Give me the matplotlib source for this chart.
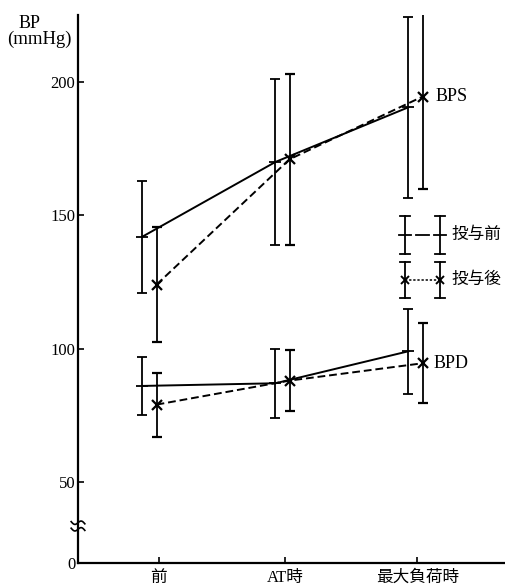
import matplotlib
matplotlib.use("Agg")
import matplotlib.pyplot as plt
import numpy as np

plt.rcParams['font.family'] = ['Liberation Serif', 'Noto Sans CJK JP']

categories = ['前', 'AT時', '最大負荷時']
bps_pre = [142, 170, 190.5]
bps_pre_sd = [21, 31, 34]
bps_post = [124, 171, 194.5]
bps_post_sd = [21.5, 32, 34.5]
bpd_pre = [86, 87, 99]
bpd_pre_sd = [11, 13, 16]
bpd_post = [79, 88, 94.5]
bpd_post_sd = [12, 11.5, 15]
ytick_values = [50, 100, 150, 200]
legend_labels = ['投与前', '投与後']

Y_ZERO_POS = 19.6   # where "0" sits on the broken axis
Y_TOP = 225.1

fig = plt.figure(figsize=(5.05, 5.87), dpi=100)
ax = fig.add_axes([78/505, 24/587, 1 - 78/505, 548/587])

x = np.arange(len(categories))
off = 0.053
lw = 1.4
common = dict(color='black', ecolor='black', elinewidth=1.3, capsize=3.5, capthick=1.3, lw=lw)

for vals, sds in [(bps_pre, bps_pre_sd), (bpd_pre, bpd_pre_sd)]:
    ax.errorbar(x - off, vals, yerr=sds, linestyle='-', marker='_', markersize=9,
                markeredgewidth=1.3, **common)
for vals, sds in [(bps_post, bps_post_sd), (bpd_post, bpd_post_sd)]:
    ax.errorbar(x + off, vals, yerr=sds, linestyle=(0, (4, 2)), marker='x', markersize=7,
                markeredgewidth=1.6, **common)

ax.set_xlim(-0.538, 2.673)
ax.set_ylim(Y_ZERO_POS, Y_TOP)

ax.spines['top'].set_visible(False)
ax.spines['right'].set_visible(False)
ax.spines['left'].set_linewidth(1.6)
ax.spines['bottom'].set_linewidth(1.6)

ax.set_yticks([Y_ZERO_POS] + ytick_values)
ax.set_yticklabels(['0'] + [str(v) for v in ytick_values], fontsize=12)
ax.set_xticks(x + np.array([0.07, 0.02, 0.015]))
ax.set_xticklabels(categories, fontsize=12)
ax.tick_params(axis='both', direction='in', length=4.5, width=1.2, pad=2)
ax.tick_params(axis='x', pad=5)

# axis title
fig.text(30/505, 1 - 23/587, 'BP', fontsize=13, ha='center', va='center')
fig.text(39.5/505, 1 - 39/587, '(mmHg)', fontsize=13.5, ha='center', va='center')

# series labels
ax.annotate('BPS', xy=(2 + off, bps_post[2]), xytext=(9, 0), textcoords='offset points',
            fontsize=13, va='center', ha='left')
ax.annotate('BPD', xy=(2 + off, bpd_post[2]), xytext=(8, 0), textcoords='offset points',
            fontsize=13, va='center', ha='left')

# manual legend (axes coordinates)
T = ax.transAxes
lx1, lx2 = 0.766, 0.848
capw = 0.0117
for (yc, hh, style) in [(0.5985, 0.0347, 'pre'), (0.5164, 0.0328, 'post')]:
    for lx in (lx1, lx2):
        ax.plot([lx, lx], [yc - hh, yc + hh], color='black', lw=1.3, transform=T, clip_on=False)
        for yy in (yc - hh, yc + hh):
            ax.plot([lx - capw, lx + capw], [yy, yy], color='black', lw=1.3, transform=T, clip_on=False)
    if style == 'pre':
        for lx in (lx1, lx2):
            ax.plot([lx - 0.014, lx + 0.014], [yc, yc], color='black', lw=1.3, transform=T)
        ax.plot([lx1 + 0.026, lx2 - 0.026], [yc, yc], color='black', lw=1.3, transform=T)
        label = legend_labels[0]
    else:
        ax.plot([lx1, lx2], [yc, yc], color='black', lw=1.1, linestyle=(0, (1.5, 1.2)), transform=T)
        ax.plot([lx1, lx2], [yc, yc], linestyle='none', marker='x', markersize=6,
                markeredgewidth=1.4, color='black', transform=T)
        label = legend_labels[1]
    ax.text(0.875, yc, label, fontsize=12, va='center', ha='left', transform=T)

# axis break marks
tt = np.linspace(-1, 1, 40)
for dy in (-0.006, 0.006):
    bx = tt * 0.016
    by = 0.0675 + dy + 0.004 * np.sin(tt * np.pi) - tt * 0.002
    ax.plot(bx, by, color='black', lw=1.2, transform=T, clip_on=False)

fig.savefig('out.png', dpi=100)
